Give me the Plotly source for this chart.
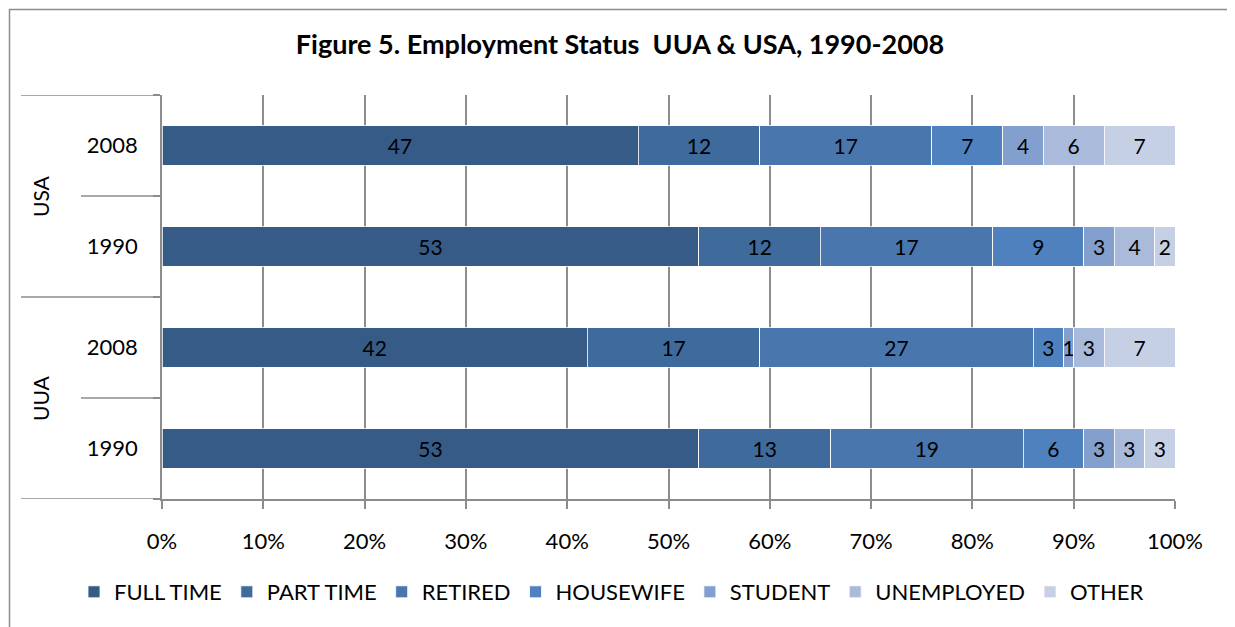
import plotly.graph_objects as go

countries = ["UUA", "UUA", "USA", "USA"]
years = ["1990", "2008", "1990", "2008"]
statuses = ["FULL TIME", "PART TIME", "RETIRED", "HOUSEWIFE", "STUDENT", "UNEMPLOYED", "OTHER"]
full_time = [53, 42, 53, 47]
part_time = [13, 17, 12, 12]
retired = [19, 27, 17, 17]
housewife = [6, 3, 9, 7]
student = [3, 1, 3, 4]
unemployed = [3, 3, 4, 6]
other = [3, 7, 2, 7]
series = [full_time, part_time, retired, housewife, student, unemployed, other]
colors = ["#365B87", "#3F6A9C", "#4876AD", "#4E81BD", "#839FCE", "#A9BADA", "#C5D0E4"]
x_ticks = [0, 10, 20, 30, 40, 50, 60, 70, 80, 90, 100]
x_tick_labels = [f"{v}%" for v in x_ticks]

FONT = "Lato"
cats = [f"{c} {y}" for c, y in zip(countries, years)]

W, H = 1227, 619
OFF = 8  # page body offset
L, R, T, B = 162 - OFF, 1175 - OFF, 95 - OFF, 499 - OFF
PW, PH = R - L, B - T

def px2x(px):
    return (px - OFF - L) / PW

def py2y(py):
    return (B - (py - OFF)) / PH

fig = go.Figure()
for name, vals, col in zip(statuses, series, colors):
    fig.add_trace(go.Bar(
        y=cats, x=vals, name=name, orientation="h",
        marker=dict(color=col, line=dict(color="white", width=0.8)),
        text=[str(v) for v in vals], textposition="inside",
        insidetextanchor="middle", textangle=0, constraintext="none",
        textfont=dict(family=FONT, size=21, color="black"),
        width=0.39,
    ))

grey = "#8C8C8C"
fig.update_layout(
    barmode="stack",
    width=W, height=H,
    margin=dict(l=L, r=W - R, t=T, b=H - B, autoexpand=False),
    paper_bgcolor="white", plot_bgcolor="white",
    font=dict(family=FONT, size=21, color="black"),
    title=dict(text="<b>Figure 5. Employment Status  UUA & USA, 1990-2008</b>",
               x=(620 - OFF) / W, xref="container", xanchor="center",
               y=1 - (45 - OFF) / H, yref="container", yanchor="middle",
               font=dict(family=FONT, size=27, color="black")),
    xaxis=dict(range=[0, 100], tickvals=x_ticks, ticktext=x_tick_labels,
               showgrid=True, gridcolor=grey, gridwidth=1.5,
               showline=True, linecolor=grey, linewidth=1.5,
               ticks="outside", ticklen=8, tickcolor=grey, tickwidth=1.5,
               ticklabelstandoff=14, zeroline=False,
               tickfont=dict(family=FONT, size=22)),
    yaxis=dict(type="category", categoryorder="array", categoryarray=cats,
               tickvals=cats, ticktext=years, range=[-0.5, 3.5],
               showgrid=False, showline=True, linecolor=grey, linewidth=1.5,
               ticks="outside", tickson="boundaries", ticklen=7,
               tickcolor=grey, tickwidth=1.5,
               tickfont=dict(family=FONT, size=22), ticklabelstandoff=18),
    legend=dict(orientation="h", xref="paper", yref="paper",
                x=px2x(74), xanchor="left",
                y=py2y(592), yanchor="middle", traceorder="normal",
                font=dict(family=FONT, size=22), itemwidth=30,
                bgcolor="rgba(0,0,0,0)"),
    showlegend=True,
)

shapes = []
for yv, x0 in [(-0.5, 21), (0.5, 81), (1.5, 21), (2.5, 81), (3.5, 21)]:
    shapes.append(dict(type="line", xref="paper", yref="y",
                       x0=px2x(x0), x1=0, y0=yv, y1=yv,
                       line=dict(color=grey, width=1.5)))
# outer chart border
shapes.append(dict(type="rect", xref="paper", yref="paper",
                   x0=px2x(9.5), x1=px2x(1233),
                   y0=py2y(640), y1=py2y(9.5),
                   line=dict(color=grey, width=1.5)))
fig.update_layout(shapes=shapes)

for grp, yc in [("USA", 2.5), ("UUA", 0.5)]:
    fig.add_annotation(text=grp, xref="paper", yref="y", x=px2x(40), y=yc,
                       xanchor="center", textangle=-90, showarrow=False,
                       font=dict(family=FONT, size=21, color="black"))

fig.write_html("out.html")
